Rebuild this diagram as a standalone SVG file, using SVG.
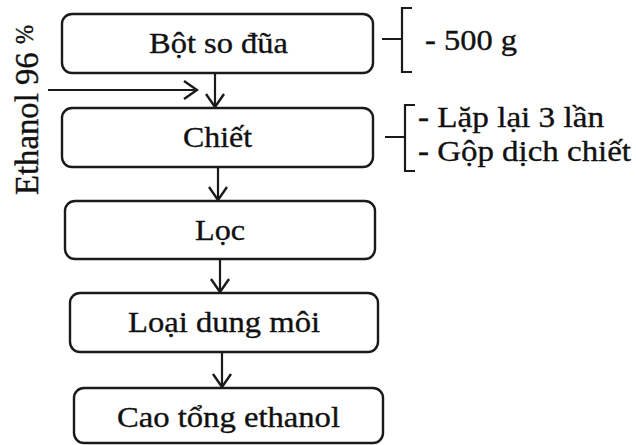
<svg xmlns="http://www.w3.org/2000/svg" width="636" height="445" viewBox="0 0 636 445">
<defs>
<style>
.box{fill:#fff;stroke:#1a1a1a;stroke-width:2.4}
.t{font-family:"Liberation Serif","Times New Roman",serif;font-size:30px;fill:#111;stroke:#111;stroke-width:0.35}
.n{font-family:"Liberation Serif","Times New Roman",serif;font-size:29px;fill:#111;stroke:#111;stroke-width:0.35}
.ln{fill:none;stroke:#1a1a1a;stroke-width:2.2}
</style>
<marker id="arr" viewBox="-16 -11 18 22" refX="0" refY="0" markerWidth="18" markerHeight="22" markerUnits="userSpaceOnUse" orient="auto">
<path d="M-13,-9 L0,0 L-13,9" fill="none" stroke="#1a1a1a" stroke-width="2.4"/>
</marker>
</defs>
<rect width="636" height="445" fill="#fff"/>
<g id="connectors">
<line class="ln" x1="48" y1="90" x2="197" y2="90" marker-end="url(#arr)"/>
<line class="ln" x1="215" y1="73" x2="215" y2="107" marker-end="url(#arr)"/>
<line class="ln" x1="218" y1="167" x2="218" y2="200" marker-end="url(#arr)"/>
<line class="ln" x1="220" y1="259" x2="220" y2="292" marker-end="url(#arr)"/>
<line class="ln" x1="222" y1="352" x2="222" y2="387" marker-end="url(#arr)"/>
</g>
<g id="n1">
<rect class="box" x="62" y="14" width="311" height="59" rx="10"/>
<text class="t" x="149" y="53" textLength="139" lengthAdjust="spacingAndGlyphs">Bột so đũa</text>
</g>
<g id="n2">
<rect class="box" x="62" y="108" width="311" height="59" rx="10"/>
<text class="t" x="183" y="147" textLength="69" lengthAdjust="spacingAndGlyphs">Chiết</text>
</g>
<g id="n3">
<rect class="box" x="65" y="201" width="310" height="58" rx="10"/>
<text class="t" x="195" y="240" textLength="50" lengthAdjust="spacingAndGlyphs">Lọc</text>
</g>
<g id="n4">
<rect class="box" x="70" y="293" width="308" height="59" rx="10"/>
<text class="t" x="128" y="332" textLength="192" lengthAdjust="spacingAndGlyphs">Loại dung môi</text>
</g>
<g id="n5">
<rect class="box" x="74" y="388" width="309" height="55" rx="10"/>
<text class="t" x="117" y="427" textLength="223" lengthAdjust="spacingAndGlyphs">Cao tổng ethanol</text>
</g>
<g id="note1">
<path class="ln" d="M382,39 H402 M412,8 H402 V72 H412"/>
<text class="n" x="425" y="50" textLength="92" lengthAdjust="spacingAndGlyphs">- 500 g</text>
</g>
<g id="note2">
<path class="ln" d="M385,137 H405 M415,105 H405 V171 H415"/>
<text class="n" x="418" y="127" textLength="186" lengthAdjust="spacingAndGlyphs">- Lặp lại 3 lần</text>
<text class="n" x="418" y="161" textLength="213" lengthAdjust="spacingAndGlyphs">- Gộp dịch chiết</text>
</g>
<g id="label-ethanol">
<text class="t" transform="translate(38,195) rotate(-90) scale(1,1.15)" x="0" y="0" textLength="170" lengthAdjust="spacingAndGlyphs">Ethanol 96 <tspan font-size="21" dy="-4">%</tspan></text>
</g>
</svg>
